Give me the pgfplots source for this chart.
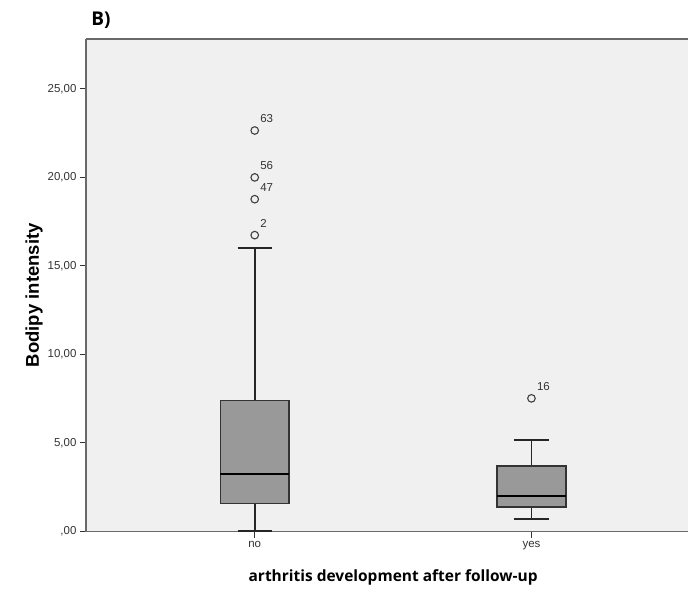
\documentclass[border=0pt]{standalone}
\usepackage{fontspec}
\setmainfont{Liberation Sans}
\newfontfamily\lblfont{Open Sans}
\usepackage{pgfplots}
\usepackage{pgfplotstable}
\pgfplotsset{compat=1.18}
\usepgfplotslibrary{statistics}
\definecolor{bg}{RGB}{240,240,240}
\definecolor{boxgray}{RGB}{153,153,153}
\definecolor{axisgray}{RGB}{105,105,105}

% outliers: group position, value, case id
\pgfplotstableread{
x y id
1 22.65 63
1 20.00 56
1 18.77 47
1 16.74 2
2 7.52 16
}\outliers

\begin{document}
\begin{tikzpicture}
\begin{axis}[
    scale only axis, width=603pt, height=493pt,
    xmin=0.39, xmax=2.567, ymin=0, ymax=27.82,
    axis background/.style={fill=bg},
    axis x line=box, axis y line=left,
    axis line style={-, draw=axisgray, line width=1.3pt},
    xtick={1,2}, xticklabels={no,yes},
    ytick={0,5,10,15,20,25},
    yticklabels={{,00},{5,00},{10,00},{15,00},{20,00},{25,00}},
    xtick pos=bottom, ytick pos=left,
    tick align=outside, major tick length=6pt,
    tick style={black!80, line width=1pt},
    tick label style={font=\fontsize{11.5}{13}\selectfont, text=black!80},
    xlabel={\lblfont\bfseries arthritis development after follow-up},
    ylabel={\bfseries Bodipy intensity},
    every axis x label/.style={at={(axis description cs:0.5,0)}, yshift=-46pt, xshift=6pt, anchor=center, font=\fontsize{15.5}{18}\selectfont},
    every axis y label/.style={at={(axis description cs:-0.0862,0.4797)}, rotate=90, anchor=center, font=\fontsize{18.5}{22}\selectfont},
    title={\lblfont\bfseries B)},
    every axis title/.style={at={(axis description cs:0,1)}, anchor=south west, xshift=2pt, yshift=7pt, font=\fontsize{19}{22}\selectfont},
    boxplot/draw direction=y,
    boxplot/every box/.style={fill=boxgray, draw=black!80, line width=1.6pt},
    boxplot/every median/.style={draw=black, line width=2.4pt},
    boxplot/every whisker/.style={draw=black!85, line width=1.9pt},
    clip=false,
]
\addplot+[boxplot prepared={draw position=1, median=3.26, upper quartile=7.41, lower quartile=1.58,
    upper whisker=16.01, lower whisker=0.04, box extend=0.2477, whisker extend=0.124},
    black!85, line width=1.9pt, mark=none]
    coordinates {};
\addplot+[boxplot prepared={draw position=2, median=1.99, upper quartile=3.69, lower quartile=1.37,
    upper whisker=5.17, lower whisker=0.69, box extend=0.2477, whisker extend=0.124},
    black!85, line width=1.9pt, mark=none]
    coordinates {};
\addplot[only marks, mark=o, mark size=3.8pt, mark options={draw=black!75, fill=bg, line width=1.1pt},
    nodes near coords, point meta=explicit symbolic,
    every node near coord/.style={anchor=south west, inner sep=0pt, xshift=5pt, yshift=7pt,
      font=\fontsize{11.5}{13}\selectfont, text=black!80}]
    table[x=x, y=y, meta=id] {\outliers};
\end{axis}
\path (current axis.south west) ++(-86pt,-58pt) rectangle ([yshift=39pt]current axis.north east);
\end{tikzpicture}
\end{document}
